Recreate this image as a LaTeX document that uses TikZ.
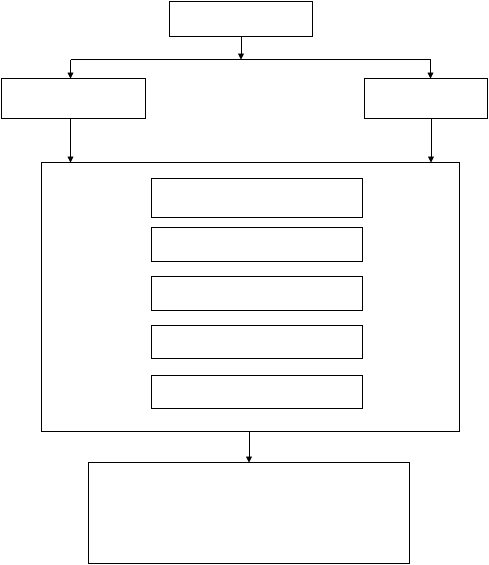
\documentclass[tikz,border=0pt]{standalone}
\usetikzlibrary{arrows.meta}
\begin{document}
\begin{tikzpicture}[x=1pt,y=-1pt,
  box/.style={draw=black,line width=0.9pt,fill=none,inner sep=0pt,outer sep=0pt,anchor=north west},
  arr/.style={line width=0.9pt,-{Triangle[width=6pt,length=6pt]}},
  ln/.style={line width=0.9pt}]
\useasboundingbox (0,0) rectangle (489,565);
\node[box,minimum width=143pt,minimum height=35pt] (top) at (169.5,1.5) {};
\node[box,minimum width=144pt,minimum height=40pt] (left) at (1.5,78.5) {};
\node[box,minimum width=123pt,minimum height=40pt] (right) at (364.5,78.5) {};
\node[box,minimum width=418pt,minimum height=269pt] (big) at (41.5,162.5) {};
\node[box,minimum width=211pt,minimum height=39pt] (b1) at (151.5,178.5) {};
\node[box,minimum width=211pt,minimum height=34pt] (b2) at (151.5,227.5) {};
\node[box,minimum width=211pt,minimum height=34pt] (b3) at (151.5,276.5) {};
\node[box,minimum width=211pt,minimum height=33pt] (b4) at (151.5,325.5) {};
\node[box,minimum width=211pt,minimum height=33pt] (b5) at (151.5,375.5) {};
\node[box,minimum width=321pt,minimum height=101pt] (bottom) at (88.5,462.5) {};
\coordinate (split) at (top.south |- 0,59.5);
\coordinate (sl) at (70.5,59.5);
\coordinate (sr) at (430.5,59.5);
\coordinate (dl) at (70.5,118);
\coordinate (dr) at (431,118);
\draw[arr] (top.south) -- (split);
\draw[ln] (sl) -- (sr);
\draw[arr] (sl) -- (sl |- left.north);
\draw[arr] (sr) -- (sr |- right.north);
\draw[arr] (left.south -| dl) -- (big.north -| dl);
\draw[arr] (right.south -| dr) -- (big.north -| dr);
\draw[arr] (big.south -| bottom.north) -- (bottom.north);
\end{tikzpicture}
\end{document}
